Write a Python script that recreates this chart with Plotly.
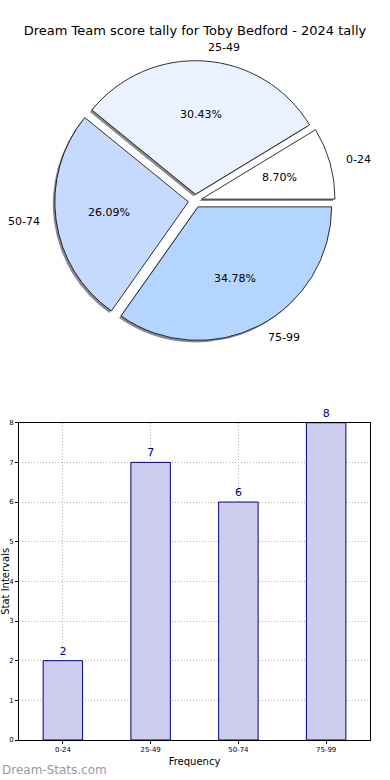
import math
import plotly.graph_objects as go

title = "Dream Team score tally for Toby Bedford - 2024 tally"
categories = ["0-24", "25-49", "50-74", "75-99"]
counts = [2, 7, 6, 8]
pie_colors = ["#ffffff", "#eaf2ff", "#c6d9ff", "#b3d5ff"]
bar_color = "#ccccee"
bar_edge = "#000080"
y_ticks = [0, 1, 2, 3, 4, 5, 6, 7, 8]

W, H = 390, 780
ml, mr, mt, mb = 19, 20, 0, 40
plot_w = W - ml - mr
plot_h = H - mt - mb
font = "DejaVu Sans"


def py(px_top, px_bot):
    return [(H - mb - px_bot) / plot_h, (H - mb - px_top) / plot_h]


def px(x0, x1):
    return [(x0 - ml) / plot_w, (x1 - ml) / plot_w]


def to_paper(x_pix, y_pix):
    return (x_pix - ml) / plot_w, (H - mb - y_pix) / plot_h


total = sum(counts)
# first slice starts at 3 o'clock and runs counterclockwise
rotation = 90 - 360 * counts[0] / total
pull_frac = 0.05
pull = [pull_frac] * len(categories)

cx, cy = 195, 198          # pie centre, pixels
box = 282                   # pie domain size, pixels
r_pie = box / 2 / (1 + pull_frac)

fig = go.Figure()

sh = 2
pie_common = dict(labels=categories, values=counts, sort=False,
                  direction="counterclockwise", rotation=rotation, pull=pull,
                  textinfo="none", showlegend=False)

# shadow
fig.add_trace(go.Pie(
    **pie_common,
    marker=dict(colors=["#8a8a8a"] * 4, line=dict(width=0)),
    hoverinfo="skip",
    domain=dict(x=px(cx - box / 2 - sh, cx + box / 2 - sh),
                y=py(cy - box / 2 + sh, cy + box / 2 + sh)),
))
# main pie
fig.add_trace(go.Pie(
    **pie_common,
    marker=dict(colors=pie_colors, line=dict(color="#000000", width=0.8)),
    domain=dict(x=px(cx - box / 2, cx + box / 2), y=py(cy - box / 2, cy + box / 2)),
))

# slice labels (outside, 1.1 r) and percentages (inside, 0.6 r), placed from the data
annotations = []
start = 0.0
for cat, v in zip(categories, counts):
    span = 360 * v / total
    mid = math.radians(start + span / 2)
    start += span
    c, s = math.cos(mid), math.sin(mid)
    off = pull_frac * r_pie
    lx, ly = cx + (1.1 * r_pie + off) * c, cy - (1.1 * r_pie + off) * s
    x, y = to_paper(lx, ly)
    annotations.append(dict(text=cat, x=x, y=y, xref="paper", yref="paper",
                            xanchor="left" if c >= 0 else "right", yanchor="middle",
                            showarrow=False, font=dict(family=font, size=11, color="#000000")))
    tx, ty = cx + (0.6 * r_pie + off) * c, cy - (0.6 * r_pie + off) * s
    x, y = to_paper(tx, ty)
    annotations.append(dict(text=f"{100 * v / total:.2f}%", x=x, y=y, xref="paper", yref="paper",
                            xanchor="center", yanchor="middle", showarrow=False,
                            font=dict(family=font, size=11, color="#000000")))

fig.add_trace(go.Bar(
    x=categories, y=counts, width=0.45,
    marker=dict(color=bar_color, line=dict(color=bar_edge, width=1)),
    text=[str(c) for c in counts], textposition="outside", cliponaxis=False,
    textfont=dict(family=font, size=11, color="#00008b"),
    showlegend=False,
))

grid = dict(showgrid=True, gridcolor="#b4b4b4", griddash="1px,2px", gridwidth=1)

annotations.append(dict(text="Dream-Stats.com", xref="paper", yref="paper", x=-ml / plot_w,
                        y=-30 / plot_h, xanchor="left", yanchor="middle", showarrow=False,
                        font=dict(family=font, size=12, color="#999999")))

fig.update_layout(
    width=W, height=H,
    margin=dict(l=ml, r=mr, t=mt, b=mb),
    paper_bgcolor="white", plot_bgcolor="white",
    font=dict(family=font, color="#000000"),
    title=dict(text=title, x=0.5, xanchor="center", yref="container", y=1 - 30 / H,
               yanchor="middle", font=dict(family=font, size=13, color="#000000")),
    xaxis=dict(domain=[0, 1], range=[-0.5, 3.5], showline=True, linecolor="#000000",
               mirror=True, ticks="outside", ticklen=3, tickcolor="#000000",
               tickfont=dict(size=7, family=font),
               title=dict(text="Frequency", font=dict(size=10), standoff=4),
               zeroline=False, **grid),
    yaxis=dict(domain=py(421, 740), range=[0, 8], tickvals=y_ticks, showline=True,
               linecolor="#000000", mirror=True, ticks="outside", ticklen=3,
               tickcolor="#000000", tickfont=dict(size=7, family=font),
               title=dict(text="Stat Intervals", font=dict(size=10), standoff=2),
               zeroline=False, **grid),
    annotations=annotations,
)

fig.write_html("out.html", config={"displayModeBar": False},
               post_script="document.body.style.margin='0';document.body.style.overflow='hidden';")
